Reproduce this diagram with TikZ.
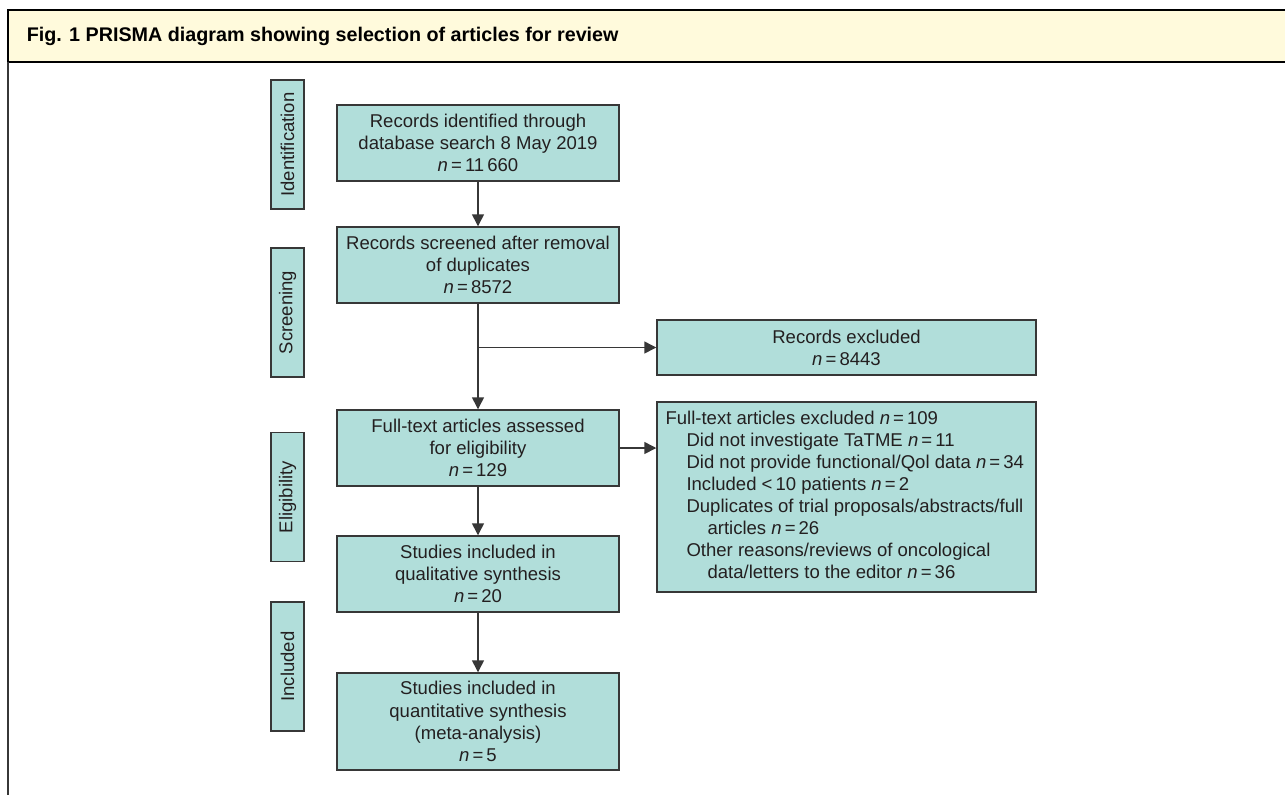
\documentclass[tikz,border=0pt]{standalone}
\usepackage{fontspec}
\setmainfont{Liberation Sans}
\usetikzlibrary{arrows.meta}
\definecolor{boxfill}{RGB}{177,222,218}
\definecolor{hdrfill}{RGB}{255,250,220}
\definecolor{edgegray}{RGB}{55,55,55}
\definecolor{txt}{RGB}{35,31,32}
\newcommand{\nval}[1]{\textit{n}\,=\,#1}
\begin{document}
\begin{tikzpicture}[x=0.75pt,y=-0.75pt,
  boxtext/.style={font=\fontsize{13.9pt}{16.7pt}\selectfont, text=txt},
  flowbox/.style={boxtext, draw=edgegray, fill=boxfill, line width=1.1pt,
    minimum width=211.5pt, minimum height=57pt, inner sep=0pt, align=center},
  phase/.style={boxtext, draw=edgegray, fill=boxfill, line width=1.1pt, rotate=90,
    minimum width=96.75pt, minimum height=24.75pt, inner sep=0pt},
  exbox/.style={boxtext, draw=edgegray, fill=boxfill, line width=1.1pt,
    minimum width=284.25pt, inner sep=0pt, align=center},
  flow/.style={draw=edgegray, line width=1.1pt, -{Triangle[length=9pt,width=9pt]}}
]
\useasboundingbox (0,0) rectangle (1285,794);
% frame and header
\fill[white] (0,0) rectangle (1285,794);
\fill[hdrfill] (8,10) rectangle (1290,62);
\draw[line width=1.5pt, black] (1290,10) -- (8,10) -- (8,62) -- (1290,62);
\draw[line width=1.6pt, edgegray] (8,62) -- (8,800);
\node[anchor=base west, inner sep=0pt, font=\fontsize{14.8pt}{17pt}\selectfont\bfseries, text=black]
  (title) at (26.5,41.7) {Fig. 1 PRISMA diagram showing selection of articles for review};

% phase labels
\node[phase] (ident) at (287.5,144.5) {Identification};
\node[phase] (screen) at (287.5,312.5) {Screening};
\node[phase] (elig) at (287.5,497) {Eligibility};
\node[phase] (incl) at (287.5,666.5) {Included};

% main boxes
\node[flowbox] (b1) at (478,143) {Records identified through\\database search 8 May 2019\\\nval{11\,660}};
\node[flowbox] (b2) at (478,265) {Records screened after removal\\of duplicates\\\nval{8572}};
\node[flowbox] (b3) at (478,448) {Full-text articles assessed\\for eligibility\\\nval{129}};
\node[flowbox] (b4) at (478,574) {Studies included in\\qualitative synthesis\\\nval{20}};
\node[flowbox, minimum height=72.75pt] (b5) at (478,721.5) {Studies included in\\quantitative synthesis\\(meta-analysis)\\\nval{5}};

% exclusion boxes
\node[exbox, minimum height=41.25pt] (ex1) at (846.5,347.5) {Records excluded\\\nval{8443}};
\node[exbox, minimum height=142.5pt,
  label={[anchor=north west, inner sep=0pt, xshift=6.75pt, yshift=-7.5pt, align=left,
          font=\fontsize{13.9pt}{16.5pt}\selectfont, text=txt]north west:{%
    Full-text articles excluded \nval{109}\\
    \hspace*{15.75pt}Did not investigate TaTME \nval{11}\\
    \hspace*{15.75pt}Did not provide functional/Qol data \nval{34}\\
    \hspace*{15.75pt}Included {<}\,10 patients \nval{2}\\
    \hspace*{15.75pt}Duplicates of trial proposals/abstracts/full\\
    \hspace*{31.5pt}articles \nval{26}\\
    \hspace*{15.75pt}Other reasons/reviews of oncological\\
    \hspace*{31.5pt}data/letters to the editor \nval{36}}}]
  (ex2) at (846.5,497) {};

% connectors
\coordinate (split) at (b2.south |- ex1.west);
\draw[flow] (b1) -- (b2);
\draw[flow] (b2) -- (b3);
\draw[flow] (split) -- (ex1.west);
\draw[flow] (b3.east) -- (b3.east -| ex2.west);
\draw[flow] (b3) -- (b4);
\draw[flow] (b4) -- (b5);
\end{tikzpicture}
\end{document}
